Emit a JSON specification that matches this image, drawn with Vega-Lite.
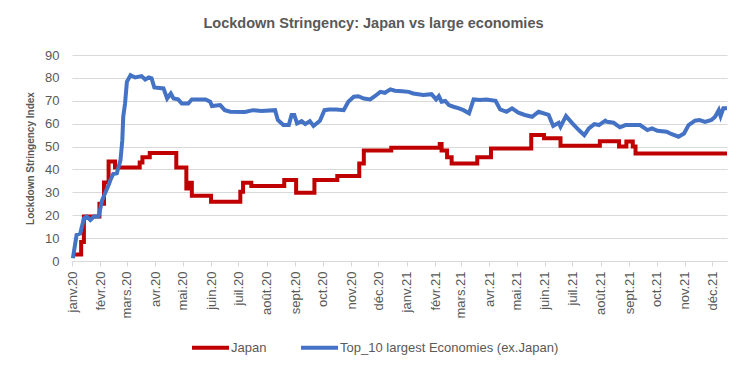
{
  "$schema": "https://vega.github.io/schema/vega-lite/v6.json",
  "width": 655,
  "height": 206,
  "autosize": {"type": "none"},
  "padding": {"left": 72, "top": 55, "right": 19, "bottom": 112},
  "background": "white",
  "title": {
    "text": "Lockdown Stringency: Japan vs large economies",
    "font": "Liberation Sans",
    "fontSize": 14.5,
    "fontWeight": "bold",
    "color": "#595959",
    "anchor": "middle",
    "dx": -26,
    "offset": 18
  },
  "config": {"view": {"stroke": null}, "font": "Liberation Sans"},
  "datasets": {
    "japan": [
      {"date": "2020-01-03", "series": "Japan", "value": 2.8},
      {"date": "2020-01-11", "series": "Japan", "value": 8.3},
      {"date": "2020-01-14", "series": "Japan", "value": 19.4},
      {"date": "2020-01-31", "series": "Japan", "value": 25.0},
      {"date": "2020-02-05", "series": "Japan", "value": 34.3},
      {"date": "2020-02-10", "series": "Japan", "value": 43.5},
      {"date": "2020-02-17", "series": "Japan", "value": 40.9},
      {"date": "2020-03-15", "series": "Japan", "value": 43.0},
      {"date": "2020-03-18", "series": "Japan", "value": 45.3},
      {"date": "2020-03-26", "series": "Japan", "value": 47.2},
      {"date": "2020-04-24", "series": "Japan", "value": 40.9},
      {"date": "2020-05-05", "series": "Japan", "value": 31.7},
      {"date": "2020-05-08", "series": "Japan", "value": 34.2},
      {"date": "2020-05-11", "series": "Japan", "value": 28.5},
      {"date": "2020-06-01", "series": "Japan", "value": 25.9},
      {"date": "2020-07-03", "series": "Japan", "value": 30.3},
      {"date": "2020-07-06", "series": "Japan", "value": 34.2},
      {"date": "2020-07-15", "series": "Japan", "value": 32.8},
      {"date": "2020-08-20", "series": "Japan", "value": 35.4},
      {"date": "2020-09-02", "series": "Japan", "value": 29.8},
      {"date": "2020-09-22", "series": "Japan", "value": 35.4},
      {"date": "2020-10-17", "series": "Japan", "value": 37.1},
      {"date": "2020-11-10", "series": "Japan", "value": 42.6},
      {"date": "2020-11-15", "series": "Japan", "value": 48.3},
      {"date": "2020-12-15", "series": "Japan", "value": 49.5},
      {"date": "2021-02-06", "series": "Japan", "value": 51.1},
      {"date": "2021-02-08", "series": "Japan", "value": 48.3},
      {"date": "2021-02-14", "series": "Japan", "value": 45.3},
      {"date": "2021-02-19", "series": "Japan", "value": 42.6},
      {"date": "2021-03-19", "series": "Japan", "value": 45.3},
      {"date": "2021-04-03", "series": "Japan", "value": 49.2},
      {"date": "2021-05-17", "series": "Japan", "value": 55.0},
      {"date": "2021-05-31", "series": "Japan", "value": 53.6},
      {"date": "2021-06-18", "series": "Japan", "value": 50.3},
      {"date": "2021-07-31", "series": "Japan", "value": 52.3},
      {"date": "2021-08-21", "series": "Japan", "value": 50.0},
      {"date": "2021-08-29", "series": "Japan", "value": 52.2},
      {"date": "2021-09-05", "series": "Japan", "value": 50.0},
      {"date": "2021-09-08", "series": "Japan", "value": 47.0},
      {"date": "2021-12-17", "series": "Japan", "value": 47.0}
    ],
    "top10": [
      {"date": "2020-01-02", "series": "Top_10 largest Economies (ex.Japan)", "value": 1.2},
      {"date": "2020-01-06", "series": "Top_10 largest Economies (ex.Japan)", "value": 11.4},
      {"date": "2020-01-10", "series": "Top_10 largest Economies (ex.Japan)", "value": 12.0},
      {"date": "2020-01-14", "series": "Top_10 largest Economies (ex.Japan)", "value": 18.6},
      {"date": "2020-01-17", "series": "Top_10 largest Economies (ex.Japan)", "value": 19.4},
      {"date": "2020-01-21", "series": "Top_10 largest Economies (ex.Japan)", "value": 17.9},
      {"date": "2020-01-25", "series": "Top_10 largest Economies (ex.Japan)", "value": 19.4},
      {"date": "2020-01-30", "series": "Top_10 largest Economies (ex.Japan)", "value": 19.4},
      {"date": "2020-02-03", "series": "Top_10 largest Economies (ex.Japan)", "value": 26.6},
      {"date": "2020-02-06", "series": "Top_10 largest Economies (ex.Japan)", "value": 29.5},
      {"date": "2020-02-10", "series": "Top_10 largest Economies (ex.Japan)", "value": 33.2},
      {"date": "2020-02-12", "series": "Top_10 largest Economies (ex.Japan)", "value": 35.4},
      {"date": "2020-02-15", "series": "Top_10 largest Economies (ex.Japan)", "value": 38.0},
      {"date": "2020-02-19", "series": "Top_10 largest Economies (ex.Japan)", "value": 38.3},
      {"date": "2020-02-23", "series": "Top_10 largest Economies (ex.Japan)", "value": 44.1},
      {"date": "2020-02-25", "series": "Top_10 largest Economies (ex.Japan)", "value": 52.8},
      {"date": "2020-02-26", "series": "Top_10 largest Economies (ex.Japan)", "value": 63.0},
      {"date": "2020-02-28", "series": "Top_10 largest Economies (ex.Japan)", "value": 68.8},
      {"date": "2020-03-01", "series": "Top_10 largest Economies (ex.Japan)", "value": 78.3},
      {"date": "2020-03-05", "series": "Top_10 largest Economies (ex.Japan)", "value": 81.2},
      {"date": "2020-03-10", "series": "Top_10 largest Economies (ex.Japan)", "value": 80.2},
      {"date": "2020-03-17", "series": "Top_10 largest Economies (ex.Japan)", "value": 80.8},
      {"date": "2020-03-21", "series": "Top_10 largest Economies (ex.Japan)", "value": 79.3},
      {"date": "2020-03-25", "series": "Top_10 largest Economies (ex.Japan)", "value": 80.2},
      {"date": "2020-03-28", "series": "Top_10 largest Economies (ex.Japan)", "value": 79.8},
      {"date": "2020-03-31", "series": "Top_10 largest Economies (ex.Japan)", "value": 75.8},
      {"date": "2020-04-10", "series": "Top_10 largest Economies (ex.Japan)", "value": 75.4},
      {"date": "2020-04-14", "series": "Top_10 largest Economies (ex.Japan)", "value": 71.0},
      {"date": "2020-04-18", "series": "Top_10 largest Economies (ex.Japan)", "value": 73.2},
      {"date": "2020-04-21", "series": "Top_10 largest Economies (ex.Japan)", "value": 71.0},
      {"date": "2020-04-26", "series": "Top_10 largest Economies (ex.Japan)", "value": 70.6},
      {"date": "2020-04-30", "series": "Top_10 largest Economies (ex.Japan)", "value": 68.8},
      {"date": "2020-05-07", "series": "Top_10 largest Economies (ex.Japan)", "value": 68.8},
      {"date": "2020-05-11", "series": "Top_10 largest Economies (ex.Japan)", "value": 70.6},
      {"date": "2020-05-20", "series": "Top_10 largest Economies (ex.Japan)", "value": 70.6},
      {"date": "2020-05-26", "series": "Top_10 largest Economies (ex.Japan)", "value": 70.6},
      {"date": "2020-05-31", "series": "Top_10 largest Economies (ex.Japan)", "value": 69.6},
      {"date": "2020-06-02", "series": "Top_10 largest Economies (ex.Japan)", "value": 67.7},
      {"date": "2020-06-11", "series": "Top_10 largest Economies (ex.Japan)", "value": 68.1},
      {"date": "2020-06-16", "series": "Top_10 largest Economies (ex.Japan)", "value": 65.9},
      {"date": "2020-06-22", "series": "Top_10 largest Economies (ex.Japan)", "value": 65.2},
      {"date": "2020-07-08", "series": "Top_10 largest Economies (ex.Japan)", "value": 65.1},
      {"date": "2020-07-17", "series": "Top_10 largest Economies (ex.Japan)", "value": 65.9},
      {"date": "2020-07-26", "series": "Top_10 largest Economies (ex.Japan)", "value": 65.5},
      {"date": "2020-08-10", "series": "Top_10 largest Economies (ex.Japan)", "value": 65.9},
      {"date": "2020-08-13", "series": "Top_10 largest Economies (ex.Japan)", "value": 61.6},
      {"date": "2020-08-19", "series": "Top_10 largest Economies (ex.Japan)", "value": 59.4},
      {"date": "2020-08-25", "series": "Top_10 largest Economies (ex.Japan)", "value": 59.4},
      {"date": "2020-08-28", "series": "Top_10 largest Economies (ex.Japan)", "value": 63.8},
      {"date": "2020-08-31", "series": "Top_10 largest Economies (ex.Japan)", "value": 63.8},
      {"date": "2020-09-03", "series": "Top_10 largest Economies (ex.Japan)", "value": 60.1},
      {"date": "2020-09-08", "series": "Top_10 largest Economies (ex.Japan)", "value": 61.1},
      {"date": "2020-09-12", "series": "Top_10 largest Economies (ex.Japan)", "value": 59.8},
      {"date": "2020-09-17", "series": "Top_10 largest Economies (ex.Japan)", "value": 61.1},
      {"date": "2020-09-21", "series": "Top_10 largest Economies (ex.Japan)", "value": 59.0},
      {"date": "2020-09-28", "series": "Top_10 largest Economies (ex.Japan)", "value": 61.3},
      {"date": "2020-10-03", "series": "Top_10 largest Economies (ex.Japan)", "value": 65.9},
      {"date": "2020-10-08", "series": "Top_10 largest Economies (ex.Japan)", "value": 66.2},
      {"date": "2020-10-16", "series": "Top_10 largest Economies (ex.Japan)", "value": 66.2},
      {"date": "2020-10-24", "series": "Top_10 largest Economies (ex.Japan)", "value": 65.9},
      {"date": "2020-10-29", "series": "Top_10 largest Economies (ex.Japan)", "value": 69.6},
      {"date": "2020-11-04", "series": "Top_10 largest Economies (ex.Japan)", "value": 71.8},
      {"date": "2020-11-09", "series": "Top_10 largest Economies (ex.Japan)", "value": 72.0},
      {"date": "2020-11-15", "series": "Top_10 largest Economies (ex.Japan)", "value": 71.0},
      {"date": "2020-11-22", "series": "Top_10 largest Economies (ex.Japan)", "value": 70.6},
      {"date": "2020-11-27", "series": "Top_10 largest Economies (ex.Japan)", "value": 72.0},
      {"date": "2020-12-03", "series": "Top_10 largest Economies (ex.Japan)", "value": 73.9},
      {"date": "2020-12-08", "series": "Top_10 largest Economies (ex.Japan)", "value": 73.5},
      {"date": "2020-12-14", "series": "Top_10 largest Economies (ex.Japan)", "value": 75.0},
      {"date": "2020-12-19", "series": "Top_10 largest Economies (ex.Japan)", "value": 74.4},
      {"date": "2020-12-27", "series": "Top_10 largest Economies (ex.Japan)", "value": 74.2},
      {"date": "2021-01-03", "series": "Top_10 largest Economies (ex.Japan)", "value": 73.9},
      {"date": "2021-01-08", "series": "Top_10 largest Economies (ex.Japan)", "value": 73.2},
      {"date": "2021-01-19", "series": "Top_10 largest Economies (ex.Japan)", "value": 72.5},
      {"date": "2021-01-28", "series": "Top_10 largest Economies (ex.Japan)", "value": 72.9},
      {"date": "2021-02-02", "series": "Top_10 largest Economies (ex.Japan)", "value": 70.6},
      {"date": "2021-02-05", "series": "Top_10 largest Economies (ex.Japan)", "value": 72.0},
      {"date": "2021-02-08", "series": "Top_10 largest Economies (ex.Japan)", "value": 69.6},
      {"date": "2021-02-12", "series": "Top_10 largest Economies (ex.Japan)", "value": 69.9},
      {"date": "2021-02-16", "series": "Top_10 largest Economies (ex.Japan)", "value": 68.1},
      {"date": "2021-02-21", "series": "Top_10 largest Economies (ex.Japan)", "value": 67.4},
      {"date": "2021-02-27", "series": "Top_10 largest Economies (ex.Japan)", "value": 66.7},
      {"date": "2021-03-04", "series": "Top_10 largest Economies (ex.Japan)", "value": 65.9},
      {"date": "2021-03-10", "series": "Top_10 largest Economies (ex.Japan)", "value": 64.5},
      {"date": "2021-03-15", "series": "Top_10 largest Economies (ex.Japan)", "value": 70.6},
      {"date": "2021-03-22", "series": "Top_10 largest Economies (ex.Japan)", "value": 70.3},
      {"date": "2021-03-29", "series": "Top_10 largest Economies (ex.Japan)", "value": 70.6},
      {"date": "2021-04-08", "series": "Top_10 largest Economies (ex.Japan)", "value": 70.0},
      {"date": "2021-04-13", "series": "Top_10 largest Economies (ex.Japan)", "value": 66.2},
      {"date": "2021-04-20", "series": "Top_10 largest Economies (ex.Japan)", "value": 65.2},
      {"date": "2021-04-26", "series": "Top_10 largest Economies (ex.Japan)", "value": 66.7},
      {"date": "2021-05-03", "series": "Top_10 largest Economies (ex.Japan)", "value": 64.8},
      {"date": "2021-05-10", "series": "Top_10 largest Economies (ex.Japan)", "value": 63.8},
      {"date": "2021-05-18", "series": "Top_10 largest Economies (ex.Japan)", "value": 63.0},
      {"date": "2021-05-25", "series": "Top_10 largest Economies (ex.Japan)", "value": 65.2},
      {"date": "2021-06-05", "series": "Top_10 largest Economies (ex.Japan)", "value": 63.8},
      {"date": "2021-06-10", "series": "Top_10 largest Economies (ex.Japan)", "value": 59.0},
      {"date": "2021-06-16", "series": "Top_10 largest Economies (ex.Japan)", "value": 60.4},
      {"date": "2021-06-18", "series": "Top_10 largest Economies (ex.Japan)", "value": 58.7},
      {"date": "2021-06-24", "series": "Top_10 largest Economies (ex.Japan)", "value": 63.3},
      {"date": "2021-07-01", "series": "Top_10 largest Economies (ex.Japan)", "value": 60.1},
      {"date": "2021-07-08", "series": "Top_10 largest Economies (ex.Japan)", "value": 57.2},
      {"date": "2021-07-14", "series": "Top_10 largest Economies (ex.Japan)", "value": 55.0},
      {"date": "2021-07-19", "series": "Top_10 largest Economies (ex.Japan)", "value": 57.9},
      {"date": "2021-07-25", "series": "Top_10 largest Economies (ex.Japan)", "value": 59.8},
      {"date": "2021-07-30", "series": "Top_10 largest Economies (ex.Japan)", "value": 59.4},
      {"date": "2021-08-06", "series": "Top_10 largest Economies (ex.Japan)", "value": 61.3},
      {"date": "2021-08-08", "series": "Top_10 largest Economies (ex.Japan)", "value": 60.8},
      {"date": "2021-08-15", "series": "Top_10 largest Economies (ex.Japan)", "value": 60.4},
      {"date": "2021-08-22", "series": "Top_10 largest Economies (ex.Japan)", "value": 58.4},
      {"date": "2021-08-28", "series": "Top_10 largest Economies (ex.Japan)", "value": 59.4},
      {"date": "2021-09-13", "series": "Top_10 largest Economies (ex.Japan)", "value": 59.4},
      {"date": "2021-09-21", "series": "Top_10 largest Economies (ex.Japan)", "value": 57.2},
      {"date": "2021-09-26", "series": "Top_10 largest Economies (ex.Japan)", "value": 57.9},
      {"date": "2021-10-02", "series": "Top_10 largest Economies (ex.Japan)", "value": 56.9},
      {"date": "2021-10-12", "series": "Top_10 largest Economies (ex.Japan)", "value": 56.5},
      {"date": "2021-10-17", "series": "Top_10 largest Economies (ex.Japan)", "value": 55.5},
      {"date": "2021-10-25", "series": "Top_10 largest Economies (ex.Japan)", "value": 54.3},
      {"date": "2021-10-31", "series": "Top_10 largest Economies (ex.Japan)", "value": 55.7},
      {"date": "2021-11-05", "series": "Top_10 largest Economies (ex.Japan)", "value": 59.4},
      {"date": "2021-11-12", "series": "Top_10 largest Economies (ex.Japan)", "value": 61.3},
      {"date": "2021-11-17", "series": "Top_10 largest Economies (ex.Japan)", "value": 61.6},
      {"date": "2021-11-23", "series": "Top_10 largest Economies (ex.Japan)", "value": 60.8},
      {"date": "2021-11-30", "series": "Top_10 largest Economies (ex.Japan)", "value": 61.6},
      {"date": "2021-12-04", "series": "Top_10 largest Economies (ex.Japan)", "value": 63.0},
      {"date": "2021-12-08", "series": "Top_10 largest Economies (ex.Japan)", "value": 65.9},
      {"date": "2021-12-10", "series": "Top_10 largest Economies (ex.Japan)", "value": 63.3},
      {"date": "2021-12-13", "series": "Top_10 largest Economies (ex.Japan)", "value": 66.7},
      {"date": "2021-12-17", "series": "Top_10 largest Economies (ex.Japan)", "value": 66.7}
    ]
  },
  "encoding": {
    "x": {
      "field": "date",
      "type": "temporal",
      "scale": {
        "type": "utc",
        "domain": [
          {"year": 2020, "month": 1, "date": 1, "utc": true},
          {"year": 2021, "month": 12, "date": 17, "utc": true}
        ]
      },
      "axis": {
        "title": null,
        "grid": false,
        "tickCount": {"interval": "month", "step": 1},
        "labelExpr": "['janv.','févr.','mars.','avr.','mai.','juin.','juil.','août.','sept.','oct.','nov.','déc.'][utcmonth(datum.value)] + utcFormat(datum.value, '%y')",
        "labelAngle": -90,
        "labelFontSize": 13,
        "labelColor": "#595959",
        "labelPadding": 5,
        "labelOverlap": false,
        "labelFlush": false,
        "tickColor": "#d9d9d9",
        "tickSize": 5,
        "domainColor": "#d9d9d9",
        "domainWidth": 1
      }
    },
    "y": {
      "field": "value",
      "type": "quantitative",
      "scale": {"domain": [0, 90], "nice": false},
      "axis": {
        "title": "Lockdown Stringency Index",
        "titleFontSize": 10,
        "titleFontWeight": "bold",
        "titleColor": "#595959",
        "titlePadding": 9,
        "values": [0, 10, 20, 30, 40, 50, 60, 70, 80, 90],
        "labelFontSize": 13,
        "labelColor": "#595959",
        "labelPadding": 13,
        "ticks": false,
        "tickSize": 0,
        "domain": false,
        "grid": true,
        "gridColor": "#d9d9d9",
        "gridWidth": 1
      }
    },
    "color": {
      "field": "series",
      "type": "nominal",
      "scale": {
        "domain": ["Japan", "Top_10 largest Economies (ex.Japan)"],
        "range": ["#C00000", "#4472C4"]
      },
      "legend": {
        "title": null,
        "orient": "none",
        "legendX": 118,
        "legendY": 272,
        "direction": "horizontal",
        "symbolType": "stroke",
        "symbolSize": 1369,
        "symbolStrokeWidth": 4,
        "labelFontSize": 13,
        "labelColor": "#595959",
        "labelOffset": 0,
        "columnPadding": 26,
        "labelLimit": 400
      }
    }
  },
  "layer": [
    {
      "data": {"name": "japan"},
      "mark": {"type": "line", "interpolate": "step-after", "strokeWidth": 4}
    },
    {
      "data": {"name": "top10"},
      "mark": {"type": "line", "strokeWidth": 4}
    }
  ]
}
